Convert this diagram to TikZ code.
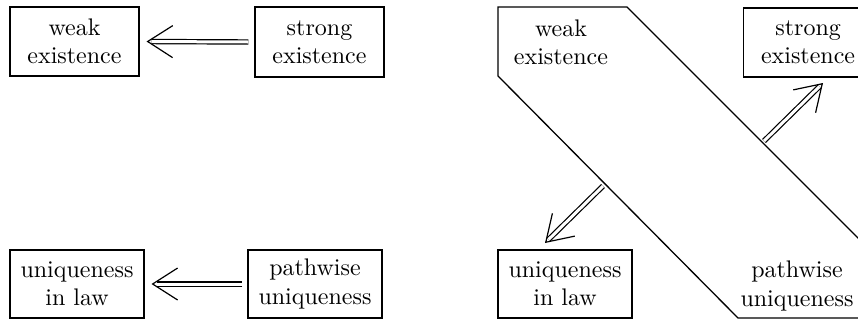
\documentclass[tikz,border=0pt]{standalone}
\usetikzlibrary{arrows.meta, calc, positioning}

\begin{document}
\begin{tikzpicture}[x=1pt, y=-1pt,
    font=\fontsize{10}{11.7}\selectfont,
    txt/.style={align=center, inner sep=0pt, scale=2.4},
    box/.style={txt, draw, line width=1.3pt},
    shaft/.style={double, double distance=3pt, line width=1.2pt},
    barb/.style={line width=1.2pt, -{Straight Barb[length=25pt, width=32pt]}}]
  \useasboundingbox (0,0) rectangle (858,322);
  \clip (0,0) rectangle (858,322);
  % left: implications between the four notions
  \node[box, minimum width=53.75pt, minimum height=28.75pt] (weak) at (74.5,41.5) {weak\\existence};
  \node[box, minimum width=53.75pt, minimum height=29.2pt] (strong) at (319.5,42) {strong\\existence};
  \node[box, minimum width=55.8pt, minimum height=28.3pt] (law) at (77,284) {uniqueness\\in law};
  \node[box, minimum width=55.8pt, minimum height=28.3pt] (path) at (315,284) {pathwise\\uniqueness};
  \coordinate (s1) at ([xshift=-5pt]strong.west);
  \coordinate (t1) at ([xshift=6pt]weak.east);
  \coordinate (s2) at ([xshift=-4pt]path.west);
  \coordinate (t2) at ([xshift=6pt]law.east);
  \draw[shaft, shorten >=5pt] (s1) -- (t1);
  \draw[barb] ($(t1)!1pt!(s1)$) -- (t1);
  \draw[shaft, shorten >=5pt] (s2) -- (t2);
  \draw[barb] ($(t2)!1pt!(s2)$) -- (t2);
  % right: weak existence + pathwise uniqueness
  \draw[line width=1.3pt] (498,7) -- (627,7) -- (938,318) -- (738,318) -- (498,76) -- cycle;
  \node[txt] (weak2) at (561,42) {weak\\existence};
  \node[box, minimum width=53.75pt, minimum height=28.75pt, anchor=west] (strong2) at (742,42.5) {strong\\existence};
  \node[box, minimum width=55.8pt, minimum height=28.3pt] (law2) at (565,284) {uniqueness\\in law};
  \node[txt] (path2) at (797,286) {pathwise\\uniqueness};
  \coordinate (s3) at (764,141);
  \coordinate (t3) at (823,83);
  \coordinate (s4) at (603,186);
  \coordinate (t4) at (545,243);
  \draw[shaft, shorten >=5pt] (s3) -- (t3);
  \draw[barb] ($(t3)!1pt!(s3)$) -- (t3);
  \draw[shaft, shorten >=5pt] (s4) -- (t4);
  \draw[barb] ($(t4)!1pt!(s4)$) -- (t4);
\end{tikzpicture}
\end{document}
